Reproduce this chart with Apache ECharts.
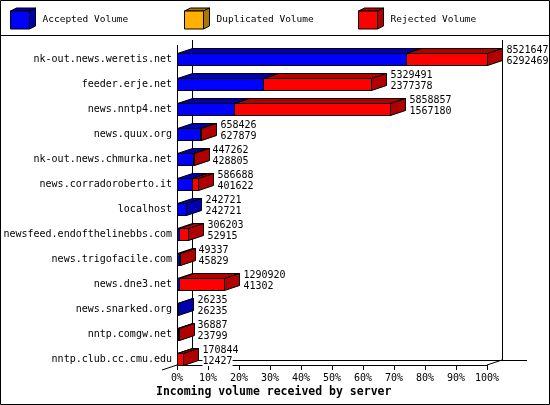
<!DOCTYPE html>
<html>
<head>
<meta charset="utf-8">
<script src="https://cdn.jsdelivr.net/npm/echarts@6/dist/echarts.min.js"></script>
<style>
  html, body { margin: 0; padding: 0; background: #fff; }
  #main { width: 550px; height: 405px; }
</style>
</head>
<body>
<div id="main"></div>
<script>
// servers, top to bottom
const servers = [
  'nk-out.news.weretis.net', 'feeder.erje.net', 'news.nntp4.net', 'news.quux.org',
  'nk-out.news.chmurka.net', 'news.corradoroberto.it', 'localhost',
  'newsfeed.endofthelinebbs.com', 'news.trigofacile.com', 'news.dne3.net',
  'news.snarked.org', 'nntp.comgw.net', 'nntp.club.cc.cmu.edu'
];
// total incoming volume (first number) and accepted volume (second number)
const totalVolume = [8521647, 5329491, 5858857, 658426, 447262, 586688, 242721, 306203, 49337, 1290920, 26235, 36887, 170844];
const acceptedVolume = [6292469, 2377378, 1567180, 627879, 428805, 401622, 242721, 52915, 45829, 41302, 26235, 23799, 12427];
const xTicks = [0, 10, 20, 30, 40, 50, 60, 70, 80, 90, 100];

const FONT = '10px "DejaVu Sans Mono", monospace';
const LEGEND_FONT = '9.5px "DejaVu Sans Mono", monospace';
const BLUE = '#0000ff', BLUE_D = '#0000b0';
const RED = '#ff0000', RED_D = '#b00000';
const ORANGE = '#ffb000', ORANGE_D = '#aa7500';

// layout
const gLeft = 177, gRight = 487, gTop = 40, gBottom = 365;
const dx = 15, dy = 5; // 3d depth

const maxTotal = Math.max(...totalVolume);
const rows = servers.map((s, i) => [
  i,
  acceptedVolume[i] / maxTotal * 100,
  totalVolume[i] / maxTotal * 100,
  totalVolume[i],
  acceptedVolume[i]
]);

const h = v => Math.round(v) + 0.5;

// one 3d box: top face, side face, front face
function box(x0, x1, yTop, yBot, face, dark) {
  x0 = h(x0); x1 = Math.max(h(x1), x0 + 1);
  const line = { stroke: '#000', lineWidth: 1 };
  return [
    { type: 'polygon', shape: { points: [[x0, yTop], [x1, yTop], [x1 + dx, yTop - dy], [x0 + dx, yTop - dy]] }, style: Object.assign({ fill: dark }, line) },
    { type: 'polygon', shape: { points: [[x1, yTop], [x1 + dx, yTop - dy], [x1 + dx, yBot - dy], [x1, yBot]] }, style: Object.assign({ fill: dark }, line) },
    { type: 'rect', shape: { x: x0, y: yTop, width: x1 - x0, height: yBot - yTop }, style: Object.assign({ fill: face }, line) }
  ];
}

function renderBar(params, api) {
  const cat = api.value(0);
  const p0 = api.coord([0, cat]);
  const pa = api.coord([api.value(1), cat]);
  const pt = api.coord([api.value(2), cat]);
  const c = p0[1];
  const yTop = Math.round(c) + 0.5, yBot = Math.round(c) + 12.5;
  let kids = [];
  const acc = api.value(4), tot = api.value(3);
  if (acc > 0) kids = kids.concat(box(p0[0], pa[0], yTop, yBot, BLUE, BLUE_D));
  if (tot - acc > 0) kids = kids.concat(box(pa[0], pt[0], yTop, yBot, RED, RED_D));
  const tx = Math.max(h(pt[0]), h(p0[0]) + 1) + dx + 4;
  kids.push({ type: 'text', style: { text: String(tot), x: tx, y: yTop - 3.5, font: FONT, fill: '#000', verticalAlign: 'middle', backgroundColor: '#fff' } });
  kids.push({ type: 'text', style: { text: String(acc), x: tx, y: yTop + 7.5, font: FONT, fill: '#000', verticalAlign: 'middle', backgroundColor: '#fff' } });
  return { type: 'group', children: kids };
}

function legendIcon(x, face, dark) {
  const y = 11, w = 19, hh = 18, d = 6, e = 3;
  const line = { stroke: '#000', lineWidth: 1 };
  return [
    { type: 'polygon', shape: { points: [[x, y], [x + w, y], [x + w + d, y - e], [x + d, y - e]] }, style: Object.assign({ fill: dark }, line) },
    { type: 'polygon', shape: { points: [[x + w, y], [x + w + d, y - e], [x + w + d, y + hh - e], [x + w, y + hh]] }, style: Object.assign({ fill: dark }, line) },
    { type: 'rect', shape: { x: x, y: y, width: w, height: hh }, style: Object.assign({ fill: face }, line) }
  ];
}

const legendItems = [
  { name: 'Accepted Volume', x: 10.5, face: BLUE, dark: BLUE_D },
  { name: 'Duplicated Volume', x: 184.5, face: ORANGE, dark: ORANGE_D },
  { name: 'Rejected Volume', x: 358.5, face: RED, dark: RED_D }
];

let graphics = [
  { type: 'rect', shape: { x: 0.5, y: 0.5, width: 549, height: 404 }, style: { fill: null, stroke: '#000', lineWidth: 1 } },
  { type: 'line', shape: { x1: 0, y1: 35.5, x2: 550, y2: 35.5 }, style: { stroke: '#000', lineWidth: 1 } },
  // back walls and floor
  { type: 'line', shape: { x1: h(gLeft + dx), y1: gTop, x2: h(gLeft + dx), y2: gBottom - dy }, style: { stroke: '#000' } },
  { type: 'line', shape: { x1: h(gRight + dx), y1: gTop, x2: h(gRight + dx), y2: gBottom - dy }, style: { stroke: '#000' } },
  { type: 'line', shape: { x1: gLeft + dx, y1: h(gBottom - dy), x2: gRight + 40, y2: h(gBottom - dy) }, style: { stroke: '#000' } },
  { type: 'line', shape: { x1: gLeft - dx, y1: gBottom + dy, x2: gLeft + dx, y2: gBottom - dy }, style: { stroke: '#000' } },
  { type: 'line', shape: { x1: gRight, y1: gBottom, x2: gRight + dx, y2: gBottom - dy }, style: { stroke: '#000' } },
  { type: 'line', shape: { x1: h(gLeft), y1: gTop + dy, x2: h(gLeft), y2: gBottom }, style: { stroke: '#000' } },
  { type: 'text', x: 156, y: 392, style: { text: 'Incoming volume received by server', font: 'bold 11.5px "DejaVu Sans Mono", monospace', fill: '#000', verticalAlign: 'middle' } }
];
legendItems.forEach(it => {
  graphics = graphics.concat(legendIcon(it.x, it.face, it.dark));
  graphics.push({ type: 'text', x: it.x + 32, y: 20, style: { text: it.name, font: LEGEND_FONT, fill: '#000', verticalAlign: 'middle' } });
});

const chart = echarts.init(document.getElementById('main'), null, { renderer: 'canvas' });
chart.setOption({
  backgroundColor: '#fff',
  animation: false,
  grid: { left: gLeft, right: 550 - gRight, top: gTop, bottom: 405 - gBottom },
  xAxis: {
    type: 'value', min: xTicks[0], max: xTicks[xTicks.length - 1], interval: xTicks[1] - xTicks[0],
    axisLine: { show: true, lineStyle: { color: '#000', width: 1 } },
    axisTick: { show: true, length: 5, lineStyle: { color: '#000' } },
    splitLine: { show: false },
    axisLabel: { formatter: '{value}%', color: '#000', fontFamily: '"DejaVu Sans Mono", monospace', fontSize: 10, margin: 8 }
  },
  yAxis: {
    type: 'category', data: servers, inverse: true,
    axisLine: { show: false }, axisTick: { show: false }, splitLine: { show: false },
    axisLabel: { color: '#000', fontFamily: '"DejaVu Sans Mono", monospace', fontSize: 10, margin: 5, verticalAlign: 'top', lineHeight: 14, interval: 0 }
  },
  graphic: graphics,
  series: [{
    type: 'custom',
    renderItem: renderBar,
    encode: { x: [1, 2], y: 0 },
    data: rows,
    clip: false
  }]
});
</script>
</body>
</html>
